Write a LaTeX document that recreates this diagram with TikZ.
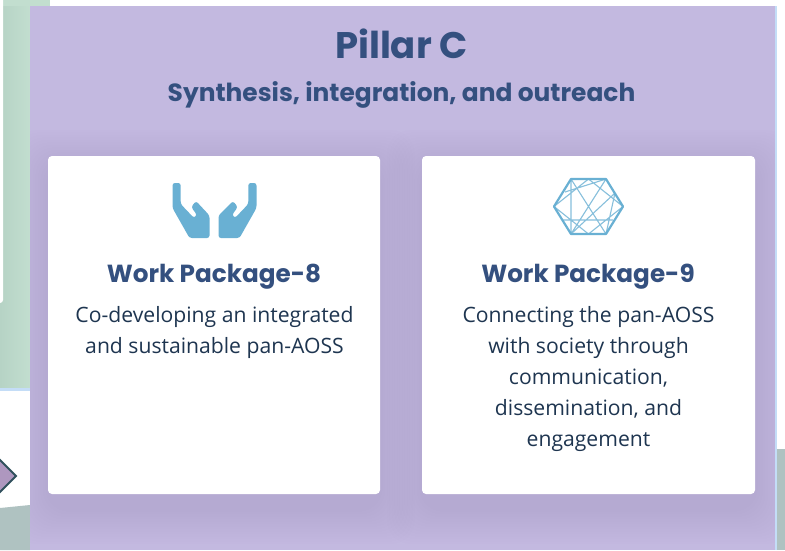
\documentclass[tikz,border=0pt]{standalone}
\usepackage{fontspec}
\setmainfont{Open Sans}
\newfontfamily\headfont{Poppins Bold}
\usetikzlibrary{calc}
\definecolor{pillarbg}{HTML}{C3B9E0}
\definecolor{shadowc}{HTML}{6F6390}
\definecolor{greenbg}{HTML}{C2DECF}
\definecolor{greenbgd}{HTML}{B6D3C5}
\definecolor{greyteal}{HTML}{AFC2C1}
\definecolor{navy}{HTML}{34507F}
\definecolor{bodyink}{HTML}{1E3550}
\definecolor{iconblue}{HTML}{69B0D3}
\definecolor{edgeblue}{HTML}{C4DDF7}
\definecolor{diafill}{HTML}{AE97BF}
\definecolor{diaedge}{HTML}{30505C}
\tikzset{
  card/.style={fill=white,rounded corners=4pt,draw=none},
  headtitle/.style={text=navy,font=\headfont\fontsize{37}{42}\selectfont,inner sep=0pt,anchor=center},
  headsub/.style={text=navy,font=\headfont\fontsize{24.9}{30}\selectfont,inner sep=0pt,anchor=center},
  cardtitle/.style={text=navy,font=\headfont\fontsize{24.7}{30}\selectfont,inner sep=0pt,anchor=center},
  cardbody/.style={text=bodyink,font=\fontsize{21.15}{31}\selectfont,align=center,inner sep=0pt,anchor=north},
  iconline/.style={draw=iconblue,line width=1.1pt,opacity=0.8},
  iconedge/.style={draw=iconblue,line width=2.2pt,line join=round}
}
\begin{document}
\begin{tikzpicture}[x=1pt,y=-1pt]
\useasboundingbox (0,0) rectangle (785,550);
\fill[white] (0,0) rectangle (785,550);
% backdrop
\fill[greenbg] (3,0) rectangle (50,6);
\fill[left color=greenbgd,right color=greenbg] (0,6) rectangle (30,388);
\fill[edgeblue] (0,388) rectangle (30,391);
\fill[white,rounded corners=3pt] (-6,-6) rectangle (3,303);
\fill[greyteal] (0,508) -- (30,505) -- (30,550) -- (0,550) -- cycle;
\fill[greyteal] (777,449) rectangle (785,550);
\node[fill=diafill,draw=diaedge,line width=2pt,minimum size=34pt,rotate=45,inner sep=0pt] (dia) at (-8,476) {};
% pillar
\fill[edgeblue] (30,6) rectangle (777,550);
\fill[pillarbg] (30,6) rectangle (775,550);
% shadows
\begin{scope}
\clip (30,6) rectangle (775,550);
\foreach \i in {0,...,13}{
  \fill[shadowc,opacity=0.012,rounded corners=24pt]
    ({48-35+2.5*\i},{156-26+2.5*\i}) rectangle ({380+35-2.5*\i},{494+50-2.5*\i});
  \fill[shadowc,opacity=0.012,rounded corners=24pt]
    ({422-35+2.5*\i},{156-26+2.5*\i}) rectangle ({755+35-2.5*\i},{494+50-2.5*\i});
}
\end{scope}
\node[headtitle] (title) at (401.5,43.5) {Pillar C};
\node[headsub] (sub) at (401.5,95) {Synthesis, integration, and outreach};
\fill[card] (48,156) rectangle (380,494);
\fill[card] (422,156) rectangle (755,494);
% hands icon
\fill[iconblue,rounded corners=2.5pt] (172.5,183) -- (180.7,183) -- (180.7,204) -- (194,218) -- (197,215) -- (191.2,207)
  -- (196,201) -- (209.5,215.5) -- (209.5,238) -- (189.5,238) -- (172.5,208) -- cycle;
\fill[iconblue,rounded corners=2.5pt] (256.5,183) -- (248.3,183) -- (248.3,204) -- (235,218) -- (232,215) -- (237.8,207)
  -- (233,201) -- (218.5,215.5) -- (218.5,238) -- (239.5,238) -- (256.5,208) -- cycle;
% network icon
\coordinate (h1) at (554,206.5); \coordinate (h2) at (571,179); \coordinate (h3) at (606,179);
\coordinate (h4) at (623,206.5); \coordinate (h5) at (606,234); \coordinate (h6) at (571,234);
\draw[iconedge] (h1)--(h2)--(h3)--(h4)--(h5)--(h6)--cycle;
\draw[iconline] (h2)--(h6) (h2)--(h5) (h1)--(588.5,179) (h1)--(588.5,234) (588.5,179)--(h4) (588.5,234)--(h4)
  (h3)--(h6) (565,192)--(h3) (563,220)--(613,220) (615,193)--(h5) (615,193)--(h6);
% texts
\node[cardtitle] (wp8) at (214,277) {Work Package-8};
\node[cardbody] (wp8b) at (214.5,306.5) {Co-developing an integrated\\and sustainable pan-AOSS};
\node[cardtitle] (wp9) at (588,277) {Work Package-9};
\node[cardbody] (wp9b) at (588.5,306.5) {Connecting the pan-AOSS\\with society through\\communication,\\dissemination, and\\engagement};
\end{tikzpicture}
\end{document}
